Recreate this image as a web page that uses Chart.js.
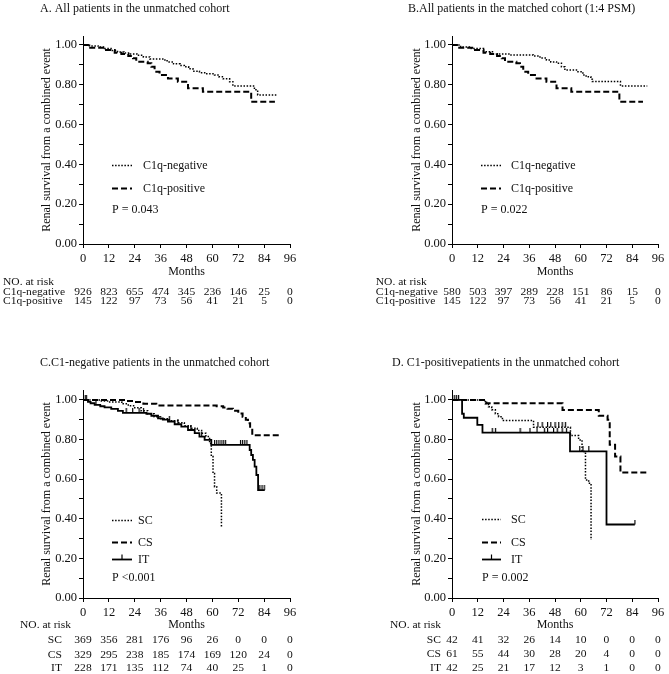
<!DOCTYPE html>
<html><head><meta charset="utf-8">
<script src="https://cdn.jsdelivr.net/npm/chart.js@4.4.1/dist/chart.umd.min.js"></script>
<style>
html,body{margin:0;padding:0;background:#fff;width:669px;height:674px;overflow:hidden}
canvas{position:absolute}
</style></head><body>
<canvas id="cA" width="335" height="320" style="left:0;top:0;width:335px;height:320px"></canvas>
<canvas id="cB" width="334" height="320" style="left:335px;top:0;width:334px;height:320px"></canvas>
<canvas id="cC" width="335" height="354" style="left:0;top:320px;width:335px;height:354px"></canvas>
<canvas id="cD" width="334" height="354" style="left:335px;top:320px;width:334px;height:354px"></canvas>
<script>
// ---------------- DATA ----------------
const monthTicks = [0, 12, 24, 36, 48, 60, 72, 84, 96];
const yTickValues = [0, 0.1, 0.2, 0.3, 0.4, 0.5, 0.6, 0.7, 0.8, 0.9, 1.0];
const yTickLabels = ['0.00', '', '0.20', '', '0.40', '', '0.60', '', '0.80', '', '1.00'];

const titles = [
  'A. All patients in the unmatched cohort',
  'B.All patients in the matched cohort (1:4 PSM)',
  'C.C1-negative patients in the unmatched cohort',
  'D. C1-positivepatients in the unmatched cohort'
];
const yAxisTitle = 'Renal survival from a combined event';
const xAxisTitle = 'Months';
const riskHeader = 'NO. at risk';
const pValues = ['P = 0.043', 'P = 0.022', 'P <0.001', 'P = 0.002'];
const groupsAB = ['C1q-negative', 'C1q-positive'];
const groupsCD = ['SC', 'CS', 'IT'];

// Panel A curves (time in months, survival)
const aNegTime = [0, 3, 7, 10, 13, 16, 19, 22, 25, 28, 31, 37, 39, 42, 45, 47, 49, 51, 54, 57, 61, 63, 65, 68, 69.5, 79.5, 81, 90];
const aNegSurv = [1, 0.995, 0.99, 0.982, 0.972, 0.965, 0.96, 0.955, 0.948, 0.94, 0.93, 0.925, 0.915, 0.905, 0.897, 0.89, 0.88, 0.868, 0.86, 0.855, 0.849, 0.84, 0.83, 0.815, 0.794, 0.775, 0.749, 0.749];
const aPosTime = [0, 2.3, 10, 14.7, 17.8, 21, 23.2, 24.7, 30, 31.7, 33.2, 35.5, 39.4, 44, 48.7, 55.6, 78, 89];
const aPosSurv = [1, 0.986, 0.975, 0.961, 0.955, 0.944, 0.933, 0.916, 0.908, 0.891, 0.866, 0.849, 0.832, 0.815, 0.782, 0.765, 0.715, 0.715];
// Panel B curves
const bNegTime = [0, 4, 9, 14.7, 19.3, 27, 37.9, 41, 44, 46, 48.7, 51, 52.6, 58, 61, 62.5, 64.7, 65.4, 78.5, 91];
const bNegSurv = [1, 0.99, 0.982, 0.966, 0.955, 0.95, 0.945, 0.935, 0.924, 0.915, 0.908, 0.89, 0.874, 0.866, 0.849, 0.84, 0.828, 0.816, 0.794, 0.794];
const bPosTime = [0, 2.3, 10, 14.7, 17.8, 21, 23.2, 24.7, 30, 31.7, 33.2, 35.5, 39.4, 44, 48.7, 55.6, 78, 89];
const bPosSurv = [1, 0.986, 0.975, 0.961, 0.955, 0.944, 0.933, 0.916, 0.908, 0.891, 0.866, 0.849, 0.832, 0.815, 0.782, 0.765, 0.715, 0.715];
// Panel C curves
const cScTime = [0, 8, 12, 18, 21, 24, 27, 30, 33, 36, 40, 44, 47, 50, 53, 55, 57, 58.7, 59.5, 60.3, 61, 62, 64.2];
const cScSurv = [1, 0.995, 0.99, 0.98, 0.97, 0.96, 0.945, 0.93, 0.915, 0.905, 0.895, 0.885, 0.87, 0.857, 0.845, 0.832, 0.815, 0.78, 0.714, 0.629, 0.562, 0.53, 0.36];
const cCsTime = [0, 20, 24, 28, 34, 62, 65, 67, 69.5, 72, 74, 75.5, 76.5, 77.5, 78.5, 92];
const cCsSurv = [1, 0.995, 0.99, 0.98, 0.972, 0.968, 0.962, 0.955, 0.945, 0.932, 0.915, 0.9, 0.882, 0.855, 0.822, 0.822];
const cItTime = [0, 2.3, 3.5, 5.4, 8, 10, 13.1, 16.2, 18.5, 29.4, 31.7, 34.8, 37, 39.4, 42.5, 45.6, 48.7, 51.8, 54, 56.4, 59.5, 77.3, 78, 78.8, 79.6, 80.4, 81.2, 84.3];
const cItSurv = [1, 0.99, 0.983, 0.975, 0.968, 0.962, 0.955, 0.945, 0.935, 0.93, 0.92, 0.907, 0.9, 0.891, 0.877, 0.865, 0.848, 0.832, 0.815, 0.798, 0.773, 0.747, 0.722, 0.697, 0.663, 0.621, 0.545, 0.545];
const cItCensor = [1, 1.5, 6, 20, 23, 26, 28, 40, 44, 50, 55, 61, 62, 63, 64, 65, 66, 73, 74, 75, 76, 82, 83, 84];
// Panel D curves
const dScTime = [0, 15.5, 17, 18.5, 20.2, 21.7, 23.5, 38, 55.2, 59, 60.6, 62.2, 63.7, 64.8];
const dScSurv = [1, 0.98, 0.965, 0.95, 0.93, 0.915, 0.896, 0.862, 0.82, 0.798, 0.739, 0.596, 0.579, 0.293];
const dScCensor = [40, 42, 44.5, 46, 48, 49.7, 51.3, 52.8];
const dCsTime = [0, 16, 51.5, 68.4, 72.5, 73.5, 76, 78.5, 90.6];
const dCsSurv = [1, 0.983, 0.949, 0.92, 0.9, 0.773, 0.714, 0.633, 0.633];
const dItTime = [0, 4.7, 5.5, 11.8, 14.2, 55, 72, 85.2];
const dItSurv = [1, 0.93, 0.91, 0.874, 0.835, 0.74, 0.371, 0.371];
const dItCensor = [1, 2, 3, 18.7, 20.2, 31.7, 36.3, 39.6, 43, 44.5, 47.3, 49, 51.3, 53.3, 59.5, 61, 63.7, 85.2];

// Numbers at risk
const riskANeg = [926, 823, 655, 474, 345, 236, 146, 25, 0];
const riskAPos = [145, 122, 97, 73, 56, 41, 21, 5, 0];
const riskBNeg = [580, 503, 397, 289, 228, 151, 86, 15, 0];
const riskBPos = [145, 122, 97, 73, 56, 41, 21, 5, 0];
const riskCSc = [369, 356, 281, 176, 96, 26, 0, 0, 0];
const riskCCs = [329, 295, 238, 185, 174, 169, 120, 24, 0];
const riskCIt = [228, 171, 135, 112, 74, 40, 25, 1, 0];
const riskDSc = [42, 41, 32, 26, 14, 10, 0, 0, 0];
const riskDCs = [61, 55, 44, 30, 28, 20, 4, 0, 0];
const riskDIt = [42, 25, 21, 17, 12, 3, 1, 0, 0];

// ---------------- STYLE / LAYOUT ----------------
const FONT = "'Liberation Serif','Times New Roman',serif";
const INK = '#111';
const TABLE_FONT = '10.5px ' + FONT;
const TABLE_SX = 1.1;
const LINESTYLE = {
  dot:  { dash: [1.5, 1.6], width: 1.5 },
  dash: { dash: [6, 3], width: 2 },
  solid:{ dash: [], width: 1.8 }
};

const censorMark = (() => {
  const c = document.createElement('canvas');
  c.width = 3; c.height = 10;
  const g = c.getContext('2d');
  g.fillStyle = '#000';
  g.fillRect(1, 0, 1.2, 5);
  return c;
})();

function toXY(t, s) { return t.map((v, i) => ({ x: v, y: s[i] })); }
function survAt(t, s, x) {
  let v = s[0];
  for (let i = 0; i < t.length; i++) { if (t[i] <= x) v = s[i]; }
  return v;
}

function curveDs(t, s, style) {
  const st = LINESTYLE[style];
  return {
    type: 'line', data: toXY(t, s), stepped: true, borderColor: '#000',
    borderWidth: st.width, borderDash: st.dash, pointRadius: 0, fill: false,
    tension: 0, borderCapStyle: 'butt'
  };
}
function censorDs(times, t, s) {
  return {
    type: 'line', showLine: false,
    data: times.map(x => ({ x: x, y: survAt(t, s, x) })),
    pointStyle: censorMark, pointRadius: 3, borderColor: '#000', backgroundColor: '#000'
  };
}

const panels = [
  {
    id: 'cA', title: titles[0], p: pValues[0], yMax: 1.045,
    yWidth: 83, pad: { left: 0, right: 45, top: 36, bottom: 56 },
    titleX: 40, titleY: 9, yTitleX: 47,
    legend: [{ label: groupsAB[0], style: 'dot' }, { label: groupsAB[1], style: 'dash' }],
    legLine: [29, 49], legText: 60, legDy: [-79, -56], pDy: -34, pX: 29,
    monthsDy: 27.7, headX: 3, headDy: 38.7,
    rows: [{ label: groupsAB[0], vals: riskANeg }, { label: groupsAB[1], vals: riskAPos }],
    rowX: 3, rowAlign: 'left', rowDy: [48.7, 57.7],
    datasets: [curveDs(aNegTime, aNegSurv, 'dot'), curveDs(aPosTime, aPosSurv, 'dash')]
  },
  {
    id: 'cB', title: titles[1], p: pValues[1], yMax: 1.045,
    yWidth: 117, pad: { left: 0, right: 11, top: 36, bottom: 56 },
    titleX: 73, titleY: 9, yTitleX: 81.7,
    legend: [{ label: groupsAB[0], style: 'dot' }, { label: groupsAB[1], style: 'dash' }],
    legLine: [29, 49], legText: 59, legDy: [-79, -56], pDy: -34, pX: 29,
    monthsDy: 27.7, headX: 40.7, headDy: 38.7,
    rows: [{ label: groupsAB[0], vals: riskBNeg }, { label: groupsAB[1], vals: riskBPos }],
    rowX: 40.7, rowAlign: 'left', rowDy: [48.7, 57.7],
    datasets: [curveDs(bNegTime, bNegSurv, 'dot'), curveDs(bPosTime, bPosSurv, 'dash')]
  },
  {
    id: 'cC', title: titles[2], p: pValues[2], yMax: 1.05,
    yWidth: 83, pad: { left: 0, right: 45, top: 70, bottom: 56 },
    titleX: 40, titleY: 43, yTitleX: 47,
    legend: [{ label: groupsCD[0], style: 'dot' }, { label: groupsCD[1], style: 'dash' }, { label: groupsCD[2], style: 'solid', censor: true }],
    legLine: [29, 49], legText: 55, legDy: [-78, -56, -39], pDy: -20, pX: 29,
    monthsDy: 27, headX: 20, headDy: 27,
    rows: [{ label: groupsCD[0], vals: riskCSc }, { label: groupsCD[1], vals: riskCCs }, { label: groupsCD[2], vals: riskCIt }],
    rowX: 62, rowAlign: 'right', rowDy: [42.7, 57, 70.4],
    datasets: [curveDs(cScTime, cScSurv, 'dot'), curveDs(cCsTime, cCsSurv, 'dash'), curveDs(cItTime, cItSurv, 'solid'),
               censorDs(cItCensor, cItTime, cItSurv)]
  },
  {
    id: 'cD', title: titles[3], p: pValues[3], yMax: 1.05,
    yWidth: 117, pad: { left: 0, right: 11, top: 70, bottom: 56 },
    titleX: 57, titleY: 43, yTitleX: 81.7,
    legend: [{ label: groupsCD[0], style: 'dot' }, { label: groupsCD[1], style: 'dash' }, { label: groupsCD[2], style: 'solid', censor: true }],
    legLine: [30, 49], legText: 59, legDy: [-79, -56, -39], pDy: -20, pX: 30,
    monthsDy: 27, headX: 55, headDy: 27,
    rows: [{ label: groupsCD[0], vals: riskDSc }, { label: groupsCD[1], vals: riskDCs }, { label: groupsCD[2], vals: riskDIt }],
    rowX: 106, rowAlign: 'right', rowDy: [42.7, 56.7, 70.7],
    datasets: [curveDs(dScTime, dScSurv, 'dot'), curveDs(dCsTime, dCsSurv, 'dash'), curveDs(dItTime, dItSurv, 'solid'),
               censorDs(dScCensor, dScTime, dScSurv), censorDs(dItCensor, dItTime, dItSurv)]
  }
];

function tableText(ctx, text, x, y, align) {
  ctx.save();
  ctx.translate(x, y);
  ctx.scale(TABLE_SX, 1);
  ctx.textAlign = align;
  ctx.fillText(text, 0, 0);
  ctx.restore();
}

function decorPlugin(P) {
  return {
    id: 'decor',
    afterDraw(chart) {
      const ctx = chart.ctx, ca = chart.chartArea, xs = chart.scales.x;
      ctx.save();
      ctx.fillStyle = INK;
      ctx.textBaseline = 'middle';
      ctx.font = '12px ' + FONT;
      // title
      ctx.textAlign = 'left';
      ctx.fillText(P.title, P.titleX, P.titleY);
      // y axis title
      ctx.save();
      ctx.translate(P.yTitleX, (ca.top + ca.bottom) / 2);
      ctx.rotate(-Math.PI / 2);
      ctx.textAlign = 'center';
      ctx.fillText(yAxisTitle, 0, 0);
      ctx.restore();
      // legend
      P.legend.forEach((L, i) => {
        const y = Math.round(ca.bottom + P.legDy[i]) + 0.5;
        const st = LINESTYLE[L.style];
        ctx.save();
        ctx.strokeStyle = '#000';
        ctx.lineWidth = st.width;
        ctx.setLineDash(st.dash);
        ctx.beginPath();
        ctx.moveTo(ca.left + P.legLine[0], y);
        ctx.lineTo(ca.left + P.legLine[1], y);
        ctx.stroke();
        if (L.censor) {
          ctx.setLineDash([]);
          ctx.lineWidth = 1.2;
          const cx = ca.left + (P.legLine[0] + P.legLine[1]) / 2;
          ctx.beginPath();
          ctx.moveTo(cx, y);
          ctx.lineTo(cx, y - 5);
          ctx.stroke();
        }
        ctx.restore();
        ctx.textAlign = 'left';
        ctx.fillText(L.label, ca.left + P.legText, y);
      });
      ctx.fillText(P.p, ca.left + P.pX, ca.bottom + P.pDy);
      // x title
      ctx.textAlign = 'center';
      ctx.fillText(xAxisTitle, (ca.left + ca.right) / 2, ca.bottom + P.monthsDy);
      // risk table
      ctx.font = TABLE_FONT;
      tableText(ctx, riskHeader, P.headX, ca.bottom + P.headDy, 'left');
      P.rows.forEach((r, i) => {
        const y = ca.bottom + P.rowDy[i];
        tableText(ctx, r.label, P.rowX, y, P.rowAlign);
        r.vals.forEach((v, j) => {
          tableText(ctx, String(v), xs.getPixelForValue(monthTicks[j]), y, 'center');
        });
      });
      ctx.restore();
    }
  };
}

panels.forEach(P => {
  new Chart(document.getElementById(P.id), {
    type: 'line',
    data: { datasets: P.datasets },
    options: {
      responsive: false, animation: false, devicePixelRatio: 1,
      layout: { padding: P.pad },
      plugins: { legend: { display: false }, tooltip: { enabled: false }, title: { display: false } },
      scales: {
        x: {
          type: 'linear', min: 0, max: 96,
          afterBuildTicks: s => { s.ticks = monthTicks.map(v => ({ value: v })); },
          afterFit: s => { s.height = 20; },
          ticks: { color: INK, font: { family: FONT, size: 12.5 }, padding: 3, maxRotation: 0, autoSkip: false,
                   callback: v => String(v) },
          grid: { drawOnChartArea: false, tickLength: 4, color: '#000', lineWidth: 1 },
          border: { color: '#000', width: 1 }
        },
        y: {
          type: 'linear', min: 0, max: P.yMax,
          afterBuildTicks: s => { s.ticks = yTickValues.map(v => ({ value: v })); },
          afterFit: s => { s.width = P.yWidth; },
          ticks: { color: INK, font: { family: FONT, size: 12.5 }, padding: 2, autoSkip: false,
                   callback: (v, i) => yTickLabels[i] },
          grid: { drawOnChartArea: false, tickLength: 4, color: '#000', lineWidth: 1 },
          border: { color: '#000', width: 1 }
        }
      }
    },
    plugins: [decorPlugin(P)]
  });
});
</script>
</body></html>
